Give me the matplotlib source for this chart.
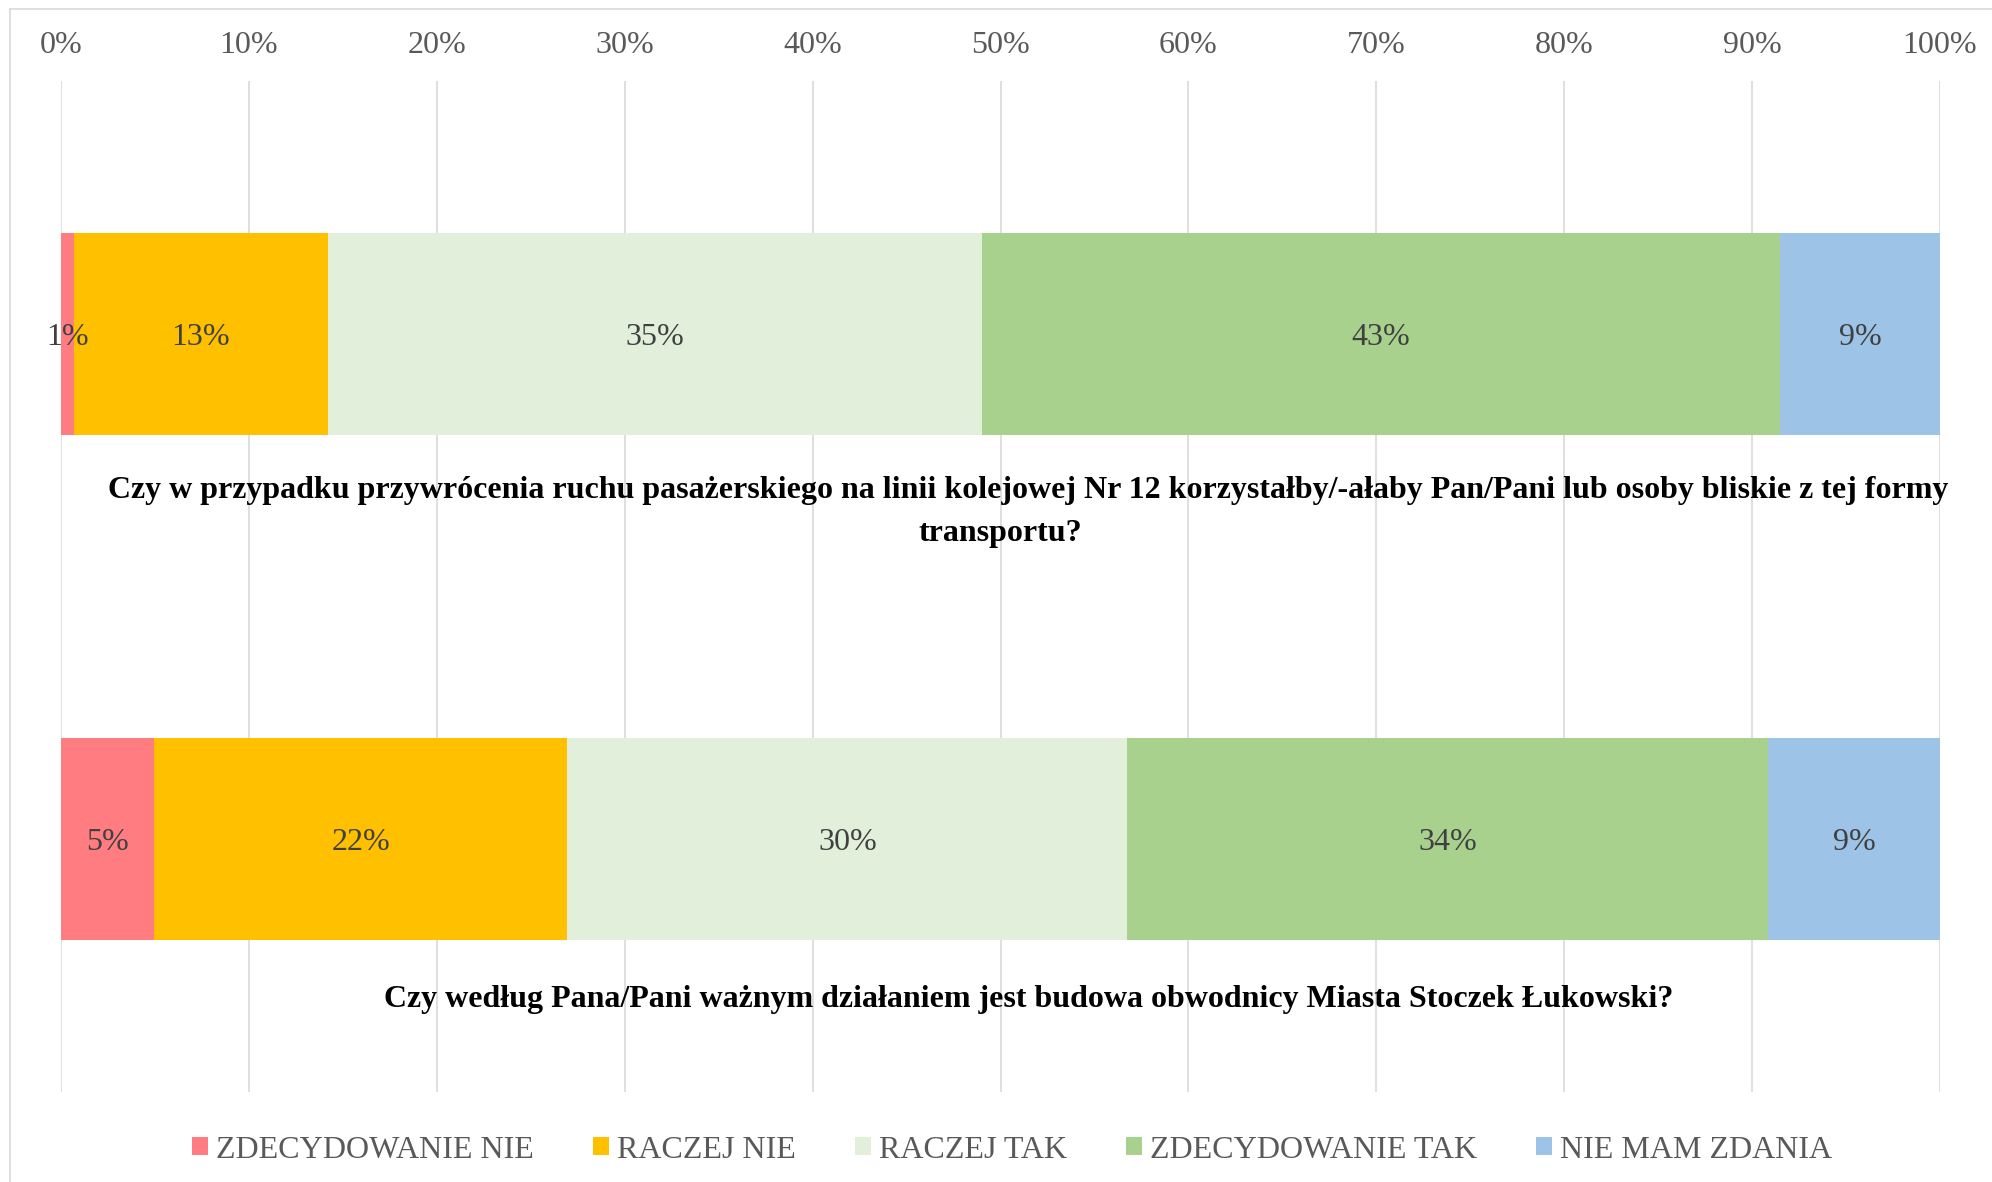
import matplotlib
matplotlib.use("Agg")
import matplotlib.pyplot as plt
from matplotlib.patches import Patch
from matplotlib.lines import Line2D
import numpy as np

plt.rcParams['font.family'] = ['Liberation Serif', 'DejaVu Serif']

# ---------------- data ----------------
questions_line1 = [
    "Czy w przypadku przywrócenia ruchu pasażerskiego na linii kolejowej Nr 12 korzystałby/-ałaby Pan/Pani lub osoby bliskie z tej formy",
    "Czy według Pana/Pani ważnym działaniem jest budowa obwodnicy Miasta Stoczek Łukowski?",
]
questions_line2 = ["transportu?", ""]
series = ["ZDECYDOWANIE NIE", "RACZEJ NIE", "RACZEJ TAK", "ZDECYDOWANIE TAK", "NIE MAM ZDANIA"]
zdecydowanie_nie = [0.7, 4.95]
raczej_nie = [13.5, 22.0]
raczej_tak = [34.8, 29.8]
zdecydowanie_tak = [42.5, 34.1]
nie_mam_zdania = [8.5, 9.15]
labels = [
    ["1%", "13%", "35%", "43%", "9%"],
    ["5%", "22%", "30%", "34%", "9%"],
]
xticklabels = ["0%", "10%", "20%", "30%", "40%", "50%", "60%", "70%", "80%", "90%", "100%"]
colors = ["#FF7C80", "#FFC000", "#E2EFDA", "#A9D18E", "#9DC3E6"]

values = [zdecydowanie_nie, raczej_nie, raczej_tak, zdecydowanie_tak, nie_mam_zdania]

W, H = 1992, 1182
fig = plt.figure(figsize=(W / 100, H / 100), dpi=100)
ax = fig.add_axes([61 / W, 1 - 1092 / H, (1940 - 61) / W, (1092 - 81) / H])

y = np.arange(len(questions_line1))
left = np.zeros(len(y))
for i, (name, vals, col) in enumerate(zip(series, values, colors)):
    vals = np.array(vals)
    bars = ax.barh(y, vals, left=left, height=0.4, color=col, edgecolor='none', zorder=3)
    for j, b in enumerate(bars):
        ax.text(left[j] + vals[j] / 2, y[j] + 0.007, labels[j][i], ha='center', va='center',
                fontsize=23, color='#404040', zorder=4)
    left += vals

ax.set_xlim(0, 100)
ax.set_ylim(1.5, -0.5)
ax.set_xticks(np.arange(0, 101, 10))
ax.set_xticklabels(xticklabels)
ax.xaxis.tick_top()
ax.tick_params(axis='x', length=0, pad=15, labelsize=23, labelcolor='#595959')
ax.set_yticks([])
for s in ax.spines.values():
    s.set_visible(False)
ax.grid(axis='x', color='#D9D9D9', linewidth=1.2, zorder=0)

# question labels below bars
ax.text(51.5, y[0] + 0.31, questions_line1[0], ha='center', va='center', fontsize=23,
        fontweight='bold', color='black')
ax.text(50.0, y[0] + 0.395, questions_line2[0], ha='center', va='center', fontsize=23,
        fontweight='bold', color='black')
ax.text(51.5, y[1] + 0.318, questions_line1[1], ha='center', va='center', fontsize=23,
        fontweight='bold', color='black')

# chart frame (top and left visible)
fig.add_artist(Line2D([10 / W, 10 / W], [0, 1 - 9 / H], transform=fig.transFigure,
                      color='#D9D9D9', linewidth=1.2))
fig.add_artist(Line2D([10 / W, 1], [1 - 9 / H, 1 - 9 / H], transform=fig.transFigure,
                      color='#D9D9D9', linewidth=1.2))

handles = [Patch(facecolor=c, edgecolor='none') for c in colors]
leg = fig.legend(handles, series, loc='center', bbox_to_anchor=(1012 / W, 1 - 1150 / H),
                 ncol=5, frameon=False, fontsize=23, handlelength=0.5, handleheight=0.5,
                 handletextpad=0.25, columnspacing=1.85, borderaxespad=0)
for t in leg.get_texts():
    t.set_color('#595959')

fig.savefig("out.png", dpi=100)
